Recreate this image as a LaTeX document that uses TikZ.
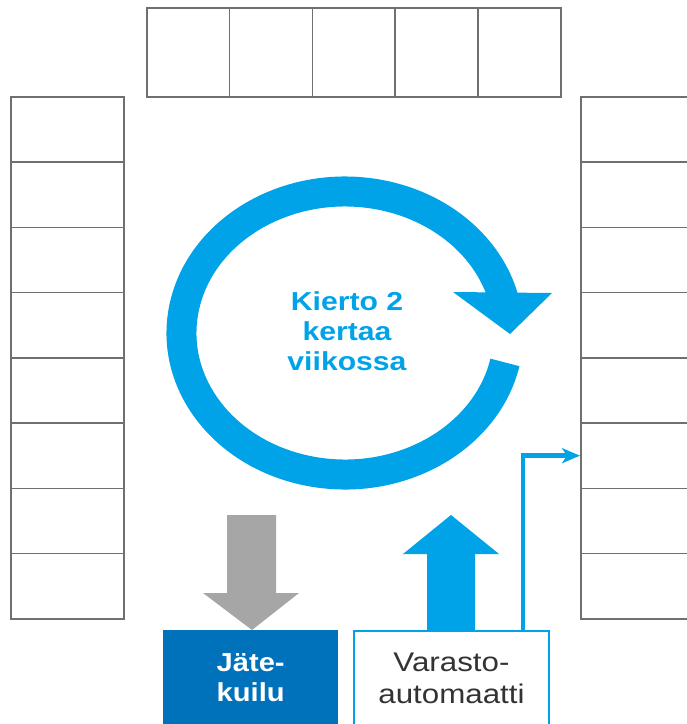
\documentclass[tikz,border=0pt]{standalone}
\usepackage{fontspec}
\setmainfont{Liberation Sans}
\usepackage{graphicx}
\usetikzlibrary{arrows.meta}
\definecolor{cblue}{RGB}{0,163,232}
\definecolor{dblue}{RGB}{0,114,187}
\definecolor{agray}{RGB}{166,166,166}
\definecolor{lgray}{RGB}{112,112,112}
\definecolor{tgray}{RGB}{51,51,51}
\begin{document}
\begin{tikzpicture}[x=1pt,y=-1pt,
  cellbox/.style={draw=lgray, line width=1.6pt, inner sep=0pt, anchor=north west},
  topcell/.style={cellbox, minimum width=82.8pt, minimum height=89pt},
  sidecell/.style={cellbox, minimum width=113pt, minimum height=65.25pt},
  rightcell/.style={cellbox, minimum width=130pt, minimum height=65.25pt},
  lbl/.style={font=\fontsize{27}{32}\selectfont, inner sep=0pt}]
\useasboundingbox (0,0) rectangle (687,724);
\clip (0,0) rectangle (687,724);
% top row
\foreach \i in {1,...,5}
  \node[topcell] (t\i) at ({146+82.8*(\i-1)},7) {};
% left and right columns
\foreach \i in {1,...,8} {
  \node[sidecell] (l\i) at (10,{96+65.25*(\i-1)}) {};
  \node[rightcell] (r\i) at (580,{96+65.25*(\i-1)}) {};
}
% circular arrow
\draw[cblue, line width=30pt] (345,333) ++(12:163.5 and 141.5)
  arc[start angle=12, end angle=346, x radius=163.5, y radius=141.5];
\fill[cblue] (453,292) -- (552,293) -- (510,334) -- cycle;
\node[text=cblue, font=\bfseries\fontsize{26}{30}\selectfont, inner sep=0pt] (kierto) at (347,334)
  {\scalebox{1.16}[1]{\begin{tabular}{@{}c@{}}Kierto 2\\kertaa\\viikossa\end{tabular}}};
% bottom boxes
\node[fill=dblue, minimum width=175pt, minimum height=100pt, anchor=north west, inner sep=0pt,
  text=white, font=\bfseries\fontsize{26}{30}\selectfont] (jate) at (163,630)
  {\scalebox{1.12}[1]{\begin{tabular}{@{}c@{}}Jäte-\\kuilu\end{tabular}}};
\node[draw=cblue, line width=2pt, fill=white, minimum width=195pt, minimum height=100pt, anchor=north west, inner sep=0pt,
  text=tgray, font=\fontsize{27}{32}\selectfont] (vara) at (353,630)
  {\scalebox{1.16}[1]{\begin{tabular}{@{}c@{}}Varasto-\\automaatti\end{tabular}}};
% gray down arrow
\fill[agray] (227,515) -- (276,515) -- (276,593) -- (299,593) -- (252,630) -- (203,593) -- (227,593) -- cycle;
% blue up arrow
\fill[cblue] (451,515) -- (499,554) -- (475,554) -- (475,630) -- (427,630) -- (427,554) -- (403,554) -- cycle;
% thin connector
\draw[cblue, line width=4.5pt, -{Stealth[length=18pt, width=15pt, inset=5pt]}]
  ([xshift=71.5pt]vara.north) |- (r6.west);
\end{tikzpicture}
\end{document}
